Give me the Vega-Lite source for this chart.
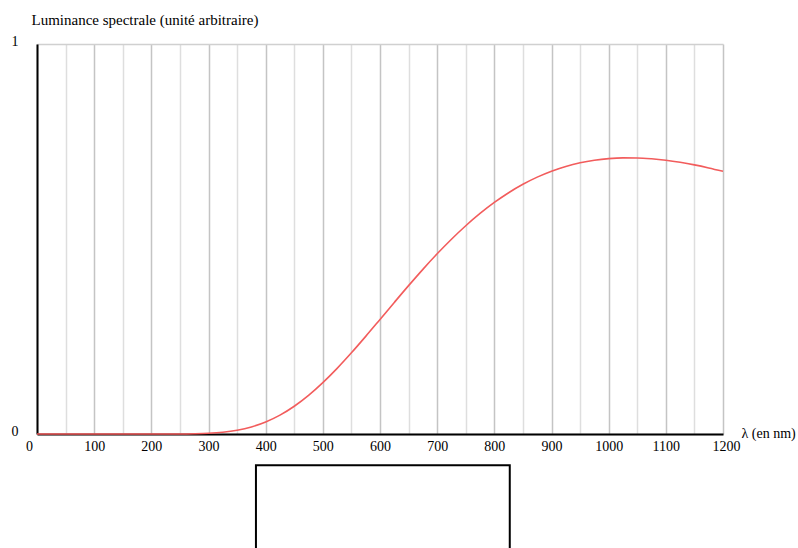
{
  "$schema": "https://vega.github.io/schema/vega-lite/v6.json",
  "width": 686,
  "height": 390,
  "autosize": {"type": "none"},
  "padding": {"left": 37, "top": 44, "right": 75, "bottom": 114},
  "background": "white",
  "config": {"view": {"stroke": null}, "font": "Liberation Serif"},
  "encoding": {
    "x": {
      "field": "lambda", "type": "quantitative",
      "scale": {"domain": [0, 1200], "nice": false, "zero": false},
      "axis": {
        "values": [0, 50, 100, 150, 200, 250, 300, 350, 400, 450, 500, 550, 600, 650, 700, 750, 800, 850, 900, 950, 1000, 1050, 1100, 1150, 1200],
        "labelExpr": "datum.value % 100 === 0 ? datum.label : ''",
        "format": "d",
        "grid": true,
        "gridColor": {"condition": {"test": "datum.value % 100 === 0", "value": "#c4c4c4"}, "value": "#dedede"},
        "gridWidth": 1.5,
        "ticks": false,
        "domainColor": "black",
        "domainWidth": 2,
        "labelFont": "Liberation Serif",
        "labelFontSize": 14,
        "labelColor": "black",
        "labelPadding": 5,
        "labelOverlap": false,
        "labelBound": false,
        "labelFlush": false,
        "labelOffset": {"condition": [{"test": "datum.value === 0", "value": -8}, {"test": "datum.value === 1200", "value": 3}], "value": 0},
        "title": "λ (en nm)",
        "titleFont": "Liberation Serif",
        "titleFontSize": 14,
        "titleFontWeight": "normal",
        "titleColor": "black",
        "titleAlign": "left",
        "titleBaseline": "middle",
        "titleX": 704,
        "titleY": -1
      }
    },
    "y": {
      "field": "L", "type": "quantitative",
      "scale": {"domain": [0, 1], "nice": false},
      "axis": {
        "values": [0, 1],
        "format": "d",
        "grid": true,
        "gridColor": "#d0d0d0",
        "gridWidth": 1.5,
        "ticks": false,
        "domainColor": "black",
        "domainWidth": 2,
        "labelFont": "Liberation Serif",
        "labelFontSize": 14,
        "labelColor": "black",
        "labelPadding": 19,
        "labelOffset": -3,
        "labelBound": false,
        "labelFlush": false,
        "title": "Luminance spectrale (unité arbitraire)",
        "titleFont": "Liberation Serif",
        "titleFontSize": 15,
        "titleFontWeight": "normal",
        "titleColor": "black",
        "titleAngle": 0,
        "titleAlign": "left",
        "titleBaseline": "alphabetic",
        "titleX": -6,
        "titleY": -20
      }
    }
  },
  "layer": [
    {
      "data": {"values": [
        {"lambda": 0, "L": 0}, {"lambda": 50, "L": 0}, {"lambda": 100, "L": 0}, {"lambda": 150, "L": 0},
        {"lambda": 200, "L": 0}, {"lambda": 250, "L": 0.0001}, {"lambda": 275, "L": 0.0006},
        {"lambda": 300, "L": 0.0018}, {"lambda": 325, "L": 0.0045}, {"lambda": 350, "L": 0.0096},
        {"lambda": 375, "L": 0.0181}, {"lambda": 400, "L": 0.0308}, {"lambda": 425, "L": 0.0484},
        {"lambda": 450, "L": 0.0712}, {"lambda": 475, "L": 0.0991}, {"lambda": 500, "L": 0.1318},
        {"lambda": 525, "L": 0.1684}, {"lambda": 550, "L": 0.2082}, {"lambda": 575, "L": 0.2503},
        {"lambda": 600, "L": 0.2937}, {"lambda": 625, "L": 0.3373}, {"lambda": 650, "L": 0.3804},
        {"lambda": 675, "L": 0.4222}, {"lambda": 700, "L": 0.4620}, {"lambda": 725, "L": 0.4994},
        {"lambda": 750, "L": 0.5340}, {"lambda": 775, "L": 0.5655}, {"lambda": 800, "L": 0.5937},
        {"lambda": 825, "L": 0.6187}, {"lambda": 850, "L": 0.6403}, {"lambda": 875, "L": 0.6586},
        {"lambda": 900, "L": 0.6738}, {"lambda": 925, "L": 0.6860}, {"lambda": 950, "L": 0.6953},
        {"lambda": 975, "L": 0.7019}, {"lambda": 1000, "L": 0.7061}, {"lambda": 1025, "L": 0.7079},
        {"lambda": 1050, "L": 0.7077}, {"lambda": 1075, "L": 0.7056}, {"lambda": 1100, "L": 0.7019},
        {"lambda": 1125, "L": 0.6966}, {"lambda": 1150, "L": 0.6900}, {"lambda": 1175, "L": 0.6822},
        {"lambda": 1200, "L": 0.6735}
      ]},
      "mark": {"type": "line", "color": "#f25c5c", "strokeWidth": 1.6, "interpolate": "monotone"}
    },
    {
      "data": {"values": [{"lambda": 383, "lambda2": 827, "L": -0.08, "L2": -0.36}]},
      "mark": {"type": "rect", "fill": "transparent", "stroke": "black", "strokeWidth": 2},
      "encoding": {
        "x2": {"field": "lambda2"},
        "y2": {"field": "L2"}
      }
    }
  ]
}
